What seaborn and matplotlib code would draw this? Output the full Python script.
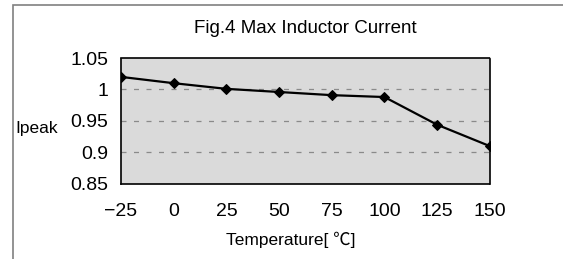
import matplotlib
matplotlib.use("Agg")
import matplotlib.pyplot as plt
import seaborn as sns
import pandas as pd
from matplotlib.patches import Rectangle

sns.set_style("white")
plt.rcParams['font.family'] = ['Liberation Sans', 'Noto Sans CJK KR', 'DejaVu Sans']
plt.rcParams['text.color'] = 'black'
plt.rcParams['xtick.color'] = 'black'
plt.rcParams['ytick.color'] = 'black'

temperature = [-25, 0, 25, 50, 75, 100, 125, 150]
ipeak = [1.02, 1.01, 1.001, 0.996, 0.991, 0.988, 0.944, 0.91]
yticks = [0.85, 0.9, 0.95, 1.0, 1.05]
ytick_labels = ["0.85", "0.9", "0.95", "1", "1.05"]

df = pd.DataFrame({"Temperature": temperature, "Ipeak": ipeak})

fig = plt.figure(figsize=(5.63, 2.59), dpi=100)
ax = fig.add_axes([0.215, 0.290, 0.655, 0.486])
ax.set_facecolor("#dadada")

for y in [0.9, 0.95, 1.0]:
    ax.axhline(y, color="#8a8a8a", linestyle=(0, (4, 6)), linewidth=0.9, zorder=1)

sns.lineplot(data=df, x="Temperature", y="Ipeak", ax=ax, color="black",
             marker="D", markersize=5, markeredgecolor="black", linewidth=1.6, zorder=3)

ax.set_xlim(-25, 150)
ax.set_ylim(0.85, 1.05)
ax.set_xticks(temperature)
ax.set_xticklabels([str(t).replace("-", "\u2212") for t in temperature], fontsize=14)
ax.set_yticks(yticks)
ax.set_yticklabels(ytick_labels, fontsize=14)
ax.tick_params(axis="x", direction="in", length=4, pad=14)
ax.tick_params(axis="y", length=0, pad=9)
for s in ax.spines.values():
    s.set_linestyle((0, (1, 1)))
    s.set_linewidth(1.2)
    s.set_color("black")

ax.set_xlabel("")
ax.set_ylabel("")
fig.text(0.516, 0.073, "Temperature[ ℃]", ha="center", va="center", fontsize=12.5)
fig.text(0.027, 0.505, "Ipeak", ha="left", va="center", fontsize=12.5)
fig.text(0.542, 0.89, "Fig.4 Max Inductor Current", ha="center", va="center", fontsize=13.5)

fig.patches.append(Rectangle((13 / 563, -0.1), 1.2, 1.1 - 5 / 259, transform=fig.transFigure,
                             fill=False, edgecolor="#808080", linewidth=1.2))

fig.savefig("out.png", dpi=100)
